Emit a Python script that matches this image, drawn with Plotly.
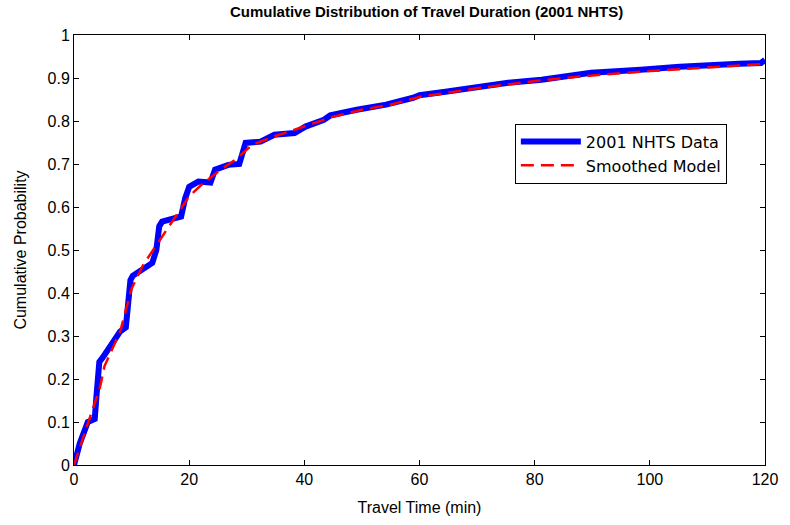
import plotly.graph_objects as go

data_x = [0, 1, 2.4, 3.6, 3.9, 4.4, 5.0, 6.5, 8.0, 9.0,
          9.4, 9.8, 10.2, 12.0, 13.6, 14.3, 14.8, 15.3, 17.0, 18.6,
          19.3, 20.0, 21.6, 23.7, 24.5, 26.8, 28.7, 29.3, 29.8, 32.4,
          34.8, 38.3, 40.2, 43.4, 44.5, 49.1, 54.2, 58.9, 60.0, 64.5,
          70.2, 75.4, 81.2, 89.8, 98.4, 105.2, 115.5, 119.3, 120]
data_y = [0, 0.05, 0.10, 0.107, 0.16, 0.24, 0.25, 0.28, 0.31, 0.32,
          0.38, 0.43, 0.44, 0.455, 0.47, 0.50, 0.555, 0.566, 0.572, 0.578,
          0.62, 0.647, 0.659, 0.657, 0.687, 0.698, 0.70, 0.735, 0.749, 0.752,
          0.768, 0.772, 0.787, 0.803, 0.813, 0.826, 0.838, 0.854, 0.86, 0.868,
          0.879, 0.889, 0.896, 0.912, 0.919, 0.926, 0.933, 0.935, 0.942]

model_x = [0, 2, 3, 4.5, 5.3, 8, 10, 12, 14, 16, 18, 20, 22, 25, 28, 31, 35,
           40, 45, 50, 55, 60, 70, 80, 90, 100, 110, 120]
model_y = [0, 0.083, 0.12, 0.18, 0.23, 0.31, 0.41, 0.465, 0.505, 0.548, 0.585,
           0.625, 0.65, 0.682, 0.71, 0.745, 0.765, 0.787, 0.81, 0.826, 0.838,
           0.856, 0.876, 0.893, 0.906, 0.916, 0.925, 0.933]

x_ticks = [0, 20, 40, 60, 80, 100, 120]
y_ticks = [0, 0.1, 0.2, 0.3, 0.4, 0.5, 0.6, 0.7, 0.8, 0.9, 1]
y_tick_text = ["0", "0.1", "0.2", "0.3", "0.4", "0.5", "0.6", "0.7", "0.8", "0.9", "1"]

FONT = "Liberation Sans, Arial, sans-serif"

fig = go.Figure()
fig.add_trace(go.Scatter(x=data_x, y=data_y, mode="lines", name="2001 NHTS Data",
                         line=dict(color="#0000ff", width=6)))
fig.add_trace(go.Scatter(x=model_x, y=model_y, mode="lines", name="Smoothed Model",
                         line=dict(color="#ff0000", width=2.5, dash="13px,7px")))

axis_common = dict(showline=True, linecolor="black", linewidth=1, mirror="ticks",
                   ticks="inside", ticklen=5, tickcolor="black", showgrid=False,
                   zeroline=False, tickfont=dict(family=FONT, size=16, color="black"))

fig.update_layout(
    width=790, height=525,
    margin=dict(l=74, r=17, t=35, b=59),
    paper_bgcolor="white", plot_bgcolor="white",
    font=dict(family=FONT, color="black"),
    title=dict(text="<b>Cumulative Distribution of Travel Duration (2001 NHTS)</b>",
               x=0.54, xanchor="center", y=0.977, yanchor="middle",
               font=dict(family=FONT, size=15, color="black")),
    xaxis=dict(range=[0, 120], tickvals=x_ticks,
               title=dict(text="Travel Time (min)", standoff=14,
                          font=dict(family=FONT, size=16, color="black")),
               **axis_common),
    yaxis=dict(range=[0, 1], tickvals=y_ticks, ticktext=y_tick_text,
               title=dict(text="Cumulative Probability", standoff=16,
                          font=dict(family=FONT, size=16, color="black")),
               **axis_common),
    legend=dict(x=0.638, y=0.794, xanchor="left", yanchor="top",
                bgcolor="white", bordercolor="black", borderwidth=1,
                font=dict(family="DejaVu Sans, Verdana, sans-serif", size=16, color="black"),
                itemwidth=60, tracegroupgap=0),
    showlegend=True,
)

fig.write_html("out.html")
